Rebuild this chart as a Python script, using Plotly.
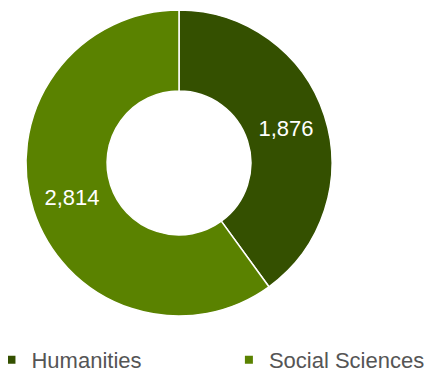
import plotly.graph_objects as go

categories = ["Humanities", "Social Sciences"]
values = [1876, 2814]
colors = ["#345000", "#5a8200"]

# page body has an 8px default margin, so the figure is laid out in a 424x365 box
W, H = 424, 365
cx, cy, r = 171, 155, 153

fig = go.Figure()
fig.add_trace(go.Pie(
    labels=categories,
    values=values,
    hole=0.47,
    sort=False,
    direction="clockwise",
    rotation=0,
    marker=dict(colors=colors, line=dict(color="white", width=1.5)),
    textinfo="value",
    texttemplate="%{value:,}",
    textposition="inside",
    insidetextorientation="horizontal",
    textfont=dict(color="white", size=22, family="Liberation Sans, Arial"),
    domain=dict(x=[(cx - r) / W, (cx + r) / W], y=[1 - (cy + r) / H, 1 - (cy - r) / H]),
    hoverinfo="label+value",
    showlegend=False,
))

legend_names = ["legend", "legend2"]
for name, col, lg in zip(categories, colors, legend_names):
    fig.add_trace(go.Scatter(
        x=[None], y=[None], mode="markers", name=name,
        marker=dict(symbol="square", size=8, color=col),
        legend=lg, showlegend=True, hoverinfo="skip",
    ))

leg_common = dict(
    orientation="h",
    y=0.036, yanchor="middle",
    xanchor="left",
    font=dict(size=22, color="#555555", family="Liberation Sans, Arial"),
    bgcolor="rgba(0,0,0,0)",
)

fig.update_layout(
    width=W, height=H,
    margin=dict(l=0, r=0, t=0, b=0, autoexpand=False),
    paper_bgcolor="white",
    plot_bgcolor="white",
    font=dict(family="Liberation Sans, Arial", color="#555555"),
    showlegend=True,
    xaxis=dict(visible=False, fixedrange=True),
    yaxis=dict(visible=False, fixedrange=True),
    legend=dict(x=-0.039, **leg_common),
    legend2=dict(x=0.521, **leg_common),
)

fig.write_html("out.html")
